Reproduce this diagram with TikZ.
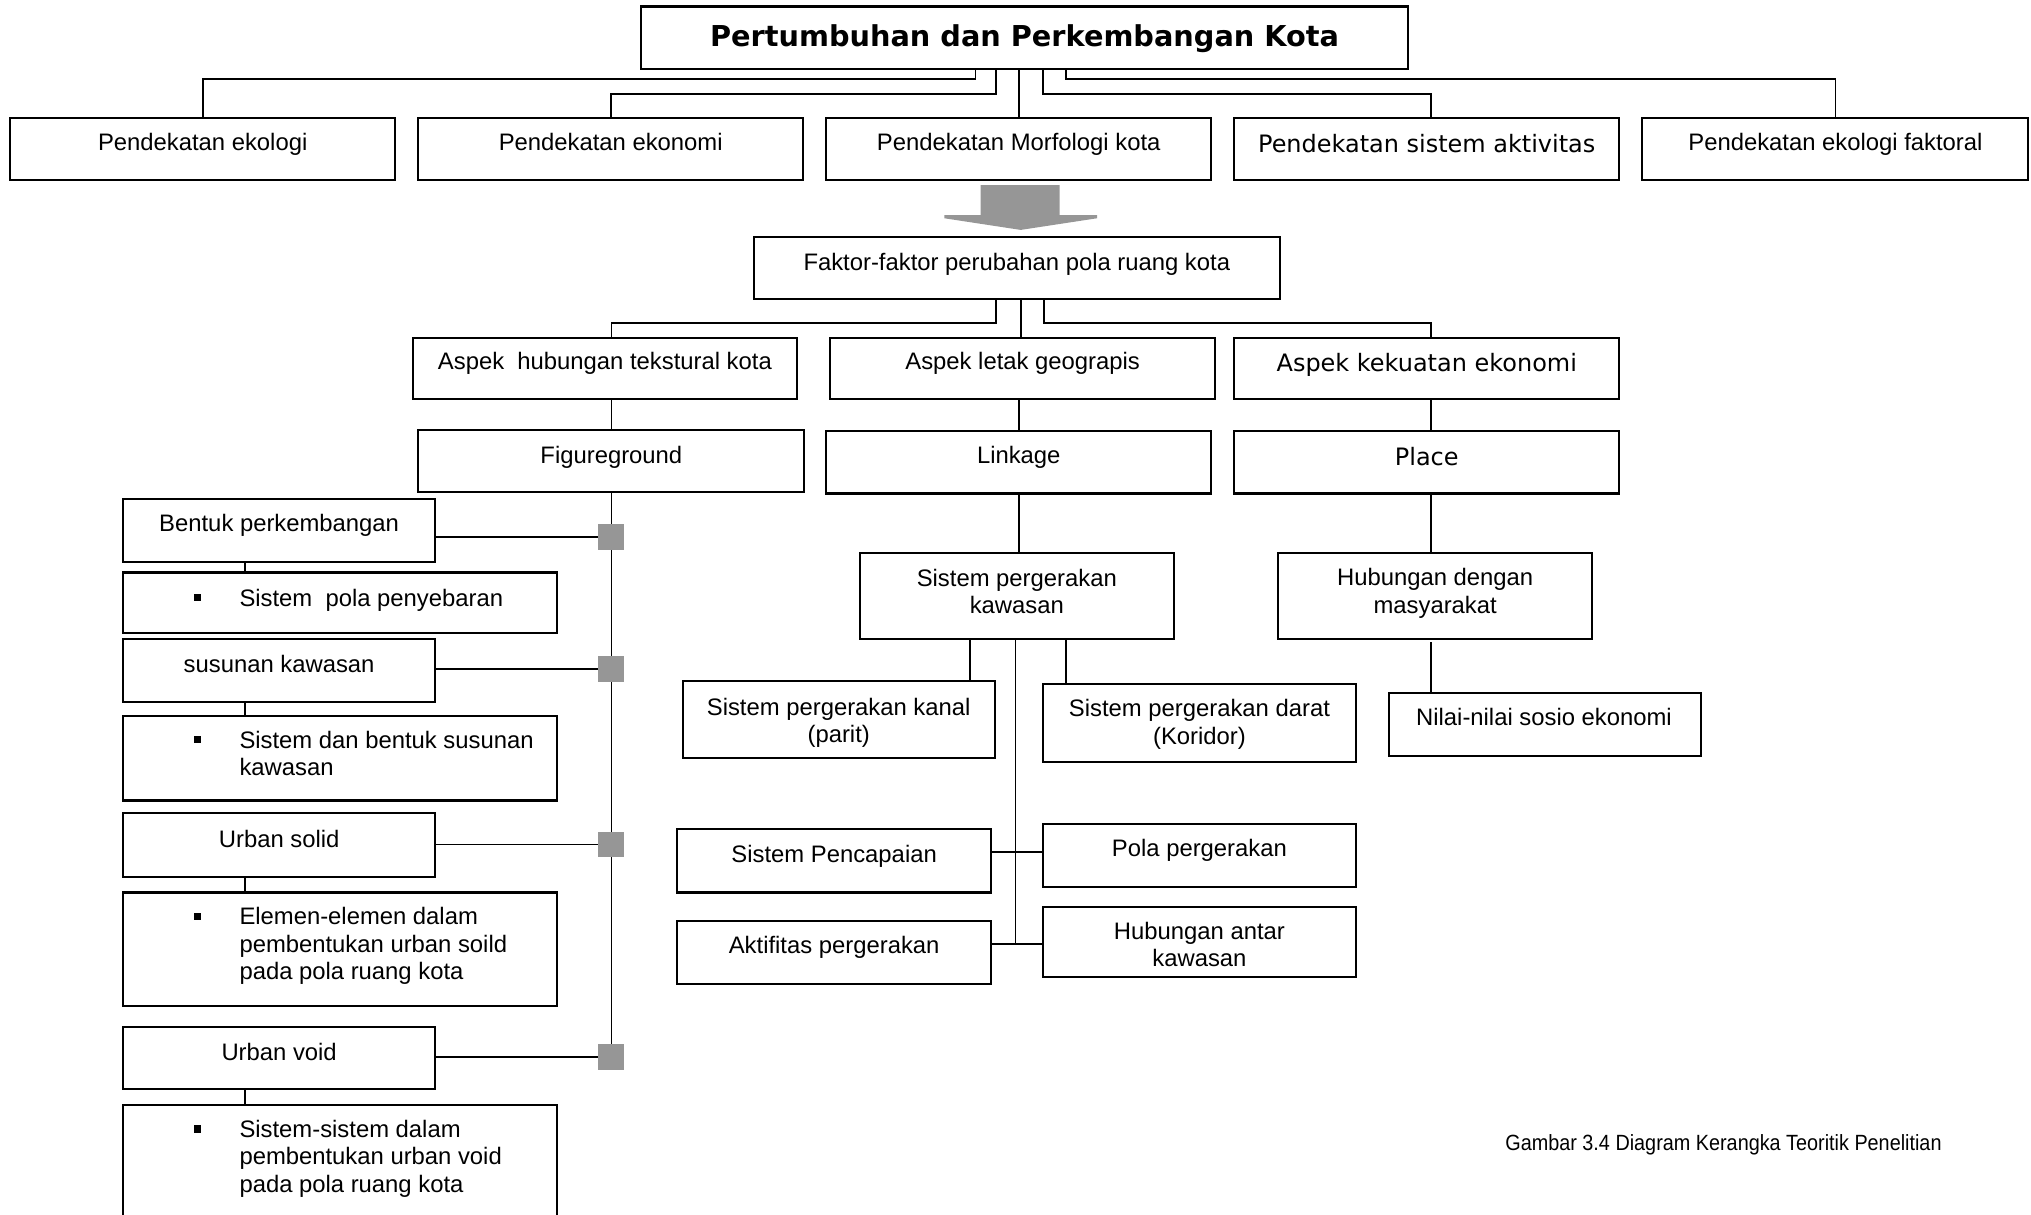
\documentclass[tikz,border=0pt]{standalone}
\usepackage{fontspec}
\setmainfont{Liberation Sans}
\newfontfamily\widefont{DejaVu Sans}
\newfontfamily\capfont[FakeStretch=0.9]{Liberation Sans}
\usetikzlibrary{fit,backgrounds}
\definecolor{blockgray}{RGB}{150,150,150}

% framed box spanning two corner points
\newcommand{\kbox}[5]{\node[boxst, fit={(#2,#3) (#4,#5)}] (#1) {};}

\begin{document}
\begin{tikzpicture}[x=1pt,y=-1pt,
  boxst/.style={draw, line width=1.6pt, inner sep=0pt},
  conn/.style={line width=1.3pt},
  txt/.style={anchor=base, inner sep=0pt, align=center, font=\fontsize{18.4}{21.1}\selectfont},
  wtxt/.style={txt, font=\widefont\fontsize{18.5}{21.1}\selectfont},
  ltxt/.style={txt, anchor=base west, align=left},
  bul/.style={fill=black, inner sep=0pt, minimum size=5.5pt},
  sq/.style={fill=blockgray, inner sep=0pt, minimum size=20pt},
]
\useasboundingbox (0,0) rectangle (1568,938);
\clip (0,0) rectangle (1568,938);

% ---------- boxes ----------
\kbox{title}{495}{5}{1087}{53}
\kbox{pe1}{8}{91}{305}{139}
\kbox{pe2}{323}{91}{620}{139}
\kbox{pe3}{638}{91}{935}{139}
\kbox{pe4}{953}{91}{1250}{139}
\kbox{pe5}{1268}{91}{1566}{139}
\kbox{fak}{582}{183}{988}{231}
\kbox{ah}{319}{261}{615}{308}
\kbox{ag}{641}{261}{938}{308}
\kbox{ak}{953}{261}{1250}{308}
\kbox{fg}{323}{332}{621}{380}
\kbox{lk}{638}{333}{935}{381}
\kbox{pl}{953}{333}{1250}{381}
\kbox{b1}{95}{385}{336}{434}
\kbox{b1d}{95}{442}{430}{489}
\kbox{b2}{95}{493}{336}{542}
\kbox{b2d}{95}{553}{430}{618}
\kbox{b3}{95}{628}{336}{677}
\kbox{b3d}{95}{689}{430}{777}
\kbox{b4}{95}{793}{336}{841}
\kbox{b4d}{95}{853}{430}{950}
\kbox{sk}{664}{427}{906}{493}
\kbox{kn}{527}{526}{768}{585}
\kbox{dr}{805}{528}{1047}{588}
\kbox{pc}{523}{640}{765}{689}
\kbox{pp}{805}{636}{1047}{685}
\kbox{af}{523}{711}{765}{760}
\kbox{ha}{805}{700}{1047}{754}
\kbox{hm}{987}{427}{1229}{493}
\kbox{nl}{1072}{535}{1313}{584}

% ---------- texts (multi-line nodes are placed by their last baseline) ----------
\node[txt, font=\widefont\bfseries\fontsize{22.2}{26}\selectfont] (title-t) at (791,36) {Pertumbuhan dan Perkembangan Kota};
\node[txt] (pe1-t) at (156.5,116.5) {Pendekatan ekologi};
\node[txt] (pe2-t) at (471.5,116.5) {Pendekatan ekonomi};
\node[txt] (pe3-t) at (786.5,116.5) {Pendekatan Morfologi kota};
\node[wtxt] (pe4-t) at (1101.5,117.5) {Pendekatan sistem aktivitas};
\node[txt] (pe5-t) at (1417,116.5) {Pendekatan ekologi faktoral};
\node[txt] (fak-t) at (785,208.5) {Faktor-faktor perubahan pola ruang kota};
\node[txt] (ah-t) at (467,285.6) {Aspek\ \ hubungan tekstural kota};
\node[txt] (ag-t) at (789.5,285.6) {Aspek letak geograpis};
\node[wtxt] (ak-t) at (1101.5,287) {Aspek kekuatan ekonomi};
\node[txt] (fg-t) at (472,357.6) {Figureground};
\node[txt] (lk-t) at (786.5,357.5) {Linkage};
\node[wtxt] (pl-t) at (1101.5,359) {Place};

\node[txt] (b1-t) at (215.5,410.5) {Bentuk perkembangan};
\node[bul] (b1d-m) at (152.3,461.3) {};
\node[ltxt] (b1d-t) at (184.7,468) {Sistem\ \ pola penyebaran};
\node[txt] (b2-t) at (215.5,519.3) {susunan kawasan};
\node[bul] (b2d-m) at (152.3,570.9) {};
\node[ltxt] (b2d-t) at (184.7,598.7) {Sistem dan bentuk susunan\\kawasan};
\node[txt] (b3-t) at (215.5,654) {Urban solid};
\node[bul] (b3d-m) at (152.3,707.3) {};
\node[ltxt] (b3d-t) at (184.7,756.2) {Elemen-elemen dalam\\pembentukan urban soild\\pada pola ruang kota};
\node[txt] (b4-t) at (215.5,818.4) {Urban void};
\node[bul] (b4d-m) at (152.3,871.6) {};
\node[ltxt] (b4d-t) at (184.7,920.5) {Sistem-sistem dalam\\pembentukan urban void\\pada pola ruang kota};

\node[txt] (sk-t) at (785,473.6) {Sistem pergerakan\\kawasan};
\node[txt] (kn-t) at (647.5,573.1) {Sistem pergerakan kanal\\(parit)};
\node[txt] (dr-t) at (926,574.4) {Sistem pergerakan darat\\(Koridor)};
\node[txt] (pc-t) at (644,666) {Sistem Pencapaian};
\node[txt] (pp-t) at (926,661.4) {Pola pergerakan};
\node[txt] (af-t) at (644,736) {Aktifitas pergerakan};
\node[txt] (ha-t) at (926,746.3) {Hubungan antar\\kawasan};
\node[txt] (hm-t) at (1108,473.3) {Hubungan dengan\\masyarakat};
\node[txt] (nl-t) at (1192,560.2) {Nilai-nilai sosio ekonomi};

\node[anchor=base west, inner sep=0pt, font=\capfont\fontsize{17}{20}\selectfont] (caption) at (1162,888) {Gambar 3.4 Diagram Kerangka Teoritik Penelitian};

% ---------- grey markers on the figure-ground spine ----------
\node[sq] (s1) at (472,414.5) {};
\node[sq] (s2) at (472,516.5) {};
\node[sq] (s3) at (472,652) {};
\node[sq] (s4) at (472,816) {};

% ---------- block arrow ----------
\fill[blockgray] (757,143) -- (818,143) -- (818,166) -- (847,166) -- (847,168.5)
  -- (788,177.5) -- (729,168.5) -- (729,166) -- (757,166) -- cycle;

% ---------- connectors ----------
\begin{scope}[on background layer]
  % title to the five approaches
  \draw[conn] ([xshift=-38pt]title.south) -- ++(0,7.3) -| (pe1.north);
  \draw[conn] ([xshift=-22pt]title.south) -- ++(0,19) -| (pe2.north);
  \draw[conn] (pe3.north |- title.south) -- (pe3.north);
  \draw[conn] ([xshift=14pt]title.south) -- ++(0,19) -| ([xshift=3.5pt]pe4.north);
  \draw[conn] ([xshift=32pt]title.south) -- ++(0,7.3) -| (pe5.north);

  % factors to the three aspects
  \draw[conn] ([xshift=-16pt]fak.south) -- ++(0,17.3) -| ([xshift=5pt]ah.north);
  \draw[conn] ([xshift=3pt]fak.south) -- ([xshift=-1.5pt]ag.north);
  \draw[conn] ([xshift=21pt]fak.south) -- ++(0,17.3) -| ([xshift=3.5pt]ak.north);

  % aspects to theories
  \draw[conn] ([xshift=5pt]ah.south) -- (fg.north);
  \draw[conn] ([xshift=-3pt]ag.south) -- (lk.north);
  \draw[conn] ([xshift=3.5pt]ak.south) -- ([xshift=3.5pt]pl.north);

  % figure-ground branch
  \draw[conn] (fg.south) -- (fg.south |- s4.center);
  \draw[conn] (s1.center -| b1.east) -- (s1.center);
  \draw[conn] (s2.center -| b2.east) -- (s2.center);
  \draw[conn] (s3.center -| b3.east) -- (s3.center);
  \draw[conn] (s4.center -| b4.east) -- (s4.center);
  \draw[conn] ([xshift=-26.5pt]b1.south) -- ([xshift=-73.5pt]b1d.north);
  \draw[conn] ([xshift=-26.5pt]b2.south) -- ([xshift=-73.5pt]b2d.north);
  \draw[conn] ([xshift=-26.5pt]b3.south) -- ([xshift=-73.5pt]b3d.north);
  \draw[conn] ([xshift=-26.5pt]b4.south) -- ([xshift=-73.5pt]b4d.north);

  % linkage branch
  \draw[conn] (lk.south) -- ([xshift=1.5pt]sk.north);
  \draw[conn] ([xshift=-36pt]sk.south) -- ([xshift=101.5pt]kn.north);
  \draw[conn] ([xshift=38pt]sk.south) -- ([xshift=-103pt]dr.north);
  \coordinate (spine) at (784,729);
  \draw[conn] (sk.south -| spine) -- (spine);
  \draw[conn] ([yshift=6.5pt]pc.east) -- ([yshift=2.5pt]pp.west);
  \draw[conn] ([yshift=6.5pt]af.east) -- ([yshift=-2pt]ha.west);

  % place branch
  \draw[conn] ([xshift=3.5pt]pl.south) -- ([xshift=-3pt]hm.north);
  \draw[conn] ([xshift=-3pt,yshift=-2pt]hm.south) -- ([xshift=-87.5pt]nl.north);
\end{scope}
\end{tikzpicture}
\end{document}
